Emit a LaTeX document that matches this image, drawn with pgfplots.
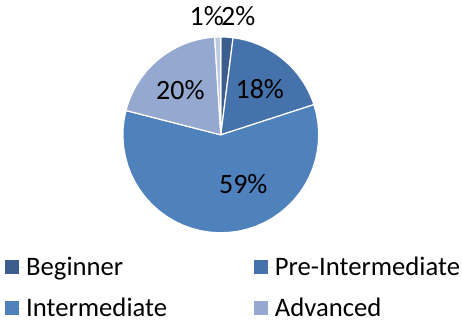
\documentclass[border=0pt]{standalone}
\usepackage{pgfplots}
\pgfplotsset{compat=1.18}
\usepackage{fontspec}
\setmainfont{Carlito}
\definecolor{cBeg}{HTML}{3B5E8F}
\definecolor{cPre}{HTML}{4572AA}
\definecolor{cInt}{HTML}{4F81BD}
\definecolor{cAdv}{HTML}{95A9D0}
\definecolor{cOth}{HTML}{BCC9E3}
% values (percent)
\def\vBeg{2}\def\vPre{18}\def\vInt{59}\def\vAdv{20}\def\vOth{1}
\def\cx{221}\def\cy{187}\def\rr{98}
\begin{document}
\begin{tikzpicture}
\pgfmathsetmacro\aA{90}
\pgfmathsetmacro\aB{\aA-3.6*\vBeg}
\pgfmathsetmacro\aC{\aB-3.6*\vPre}
\pgfmathsetmacro\aD{\aC-3.6*\vInt}
\pgfmathsetmacro\aE{\aD-3.6*\vAdv}
\pgfmathsetmacro\aF{\aE-3.6*\vOth}
\begin{axis}[
  x=1pt, y=1pt, xmin=0, xmax=462, ymin=0, ymax=322,
  hide axis, clip=false, scale only axis,
  legend columns=2,
  legend cell align=left,
  legend style={draw=none, fill=none, at={(axis cs:5,81)}, anchor=north west,
    font=\fontsize{26.7}{28}\selectfont, inner sep=0pt,
    nodes={inner ysep=0pt, text height=35pt, text depth=6pt},
    /tikz/every even column/.append style={column sep=85pt}},
  legend image code/.code={\fill[#1,draw=none] (0pt,-13pt) rectangle (14pt,1pt);
     \path[draw=none] (0pt,-6pt) -- (19pt,-6pt);},
  every axis plot/.append style={draw=white, line width=1.2pt, samples=40, variable=\t},
]
\addplot[fill=cBeg, domain=\aB:\aA] ({\cx+\rr*cos(\t)},{\cy+\rr*sin(\t)}) -- (axis cs:\cx,\cy) -- cycle;
\addlegendentry{Beginner}
\addplot[fill=cPre, domain=\aC:\aB] ({\cx+\rr*cos(\t)},{\cy+\rr*sin(\t)}) -- (axis cs:\cx,\cy) -- cycle;
\addlegendentry{Pre-Intermediate}
\addplot[fill=cInt, domain=\aD:\aC] ({\cx+\rr*cos(\t)},{\cy+\rr*sin(\t)}) -- (axis cs:\cx,\cy) -- cycle;
\addlegendentry{Intermediate}
\addplot[fill=cAdv, domain=\aE:\aD] ({\cx+\rr*cos(\t)},{\cy+\rr*sin(\t)}) -- (axis cs:\cx,\cy) -- cycle;
\addlegendentry{Advanced}
\addplot[fill=cOth, domain=\aF:\aE, forget plot] ({\cx+\rr*cos(\t)},{\cy+\rr*sin(\t)}) -- (axis cs:\cx,\cy) -- cycle;
\addplot[draw=none, forget plot] coordinates {(0,0) (462,322)};
\begin{scope}[every node/.style={font=\fontsize{28}{30}\selectfont, inner sep=0pt}]
\node at (axis cs:207,306) {1\%};
\node at (axis cs:238.5,306) {2\%};
\node at (axis cs:260,233) {18\%};
\node at (axis cs:180.5,232) {20\%};
\node at (axis cs:243.5,138) {59\%};
\end{scope}
\end{axis}
\end{tikzpicture}
\end{document}
